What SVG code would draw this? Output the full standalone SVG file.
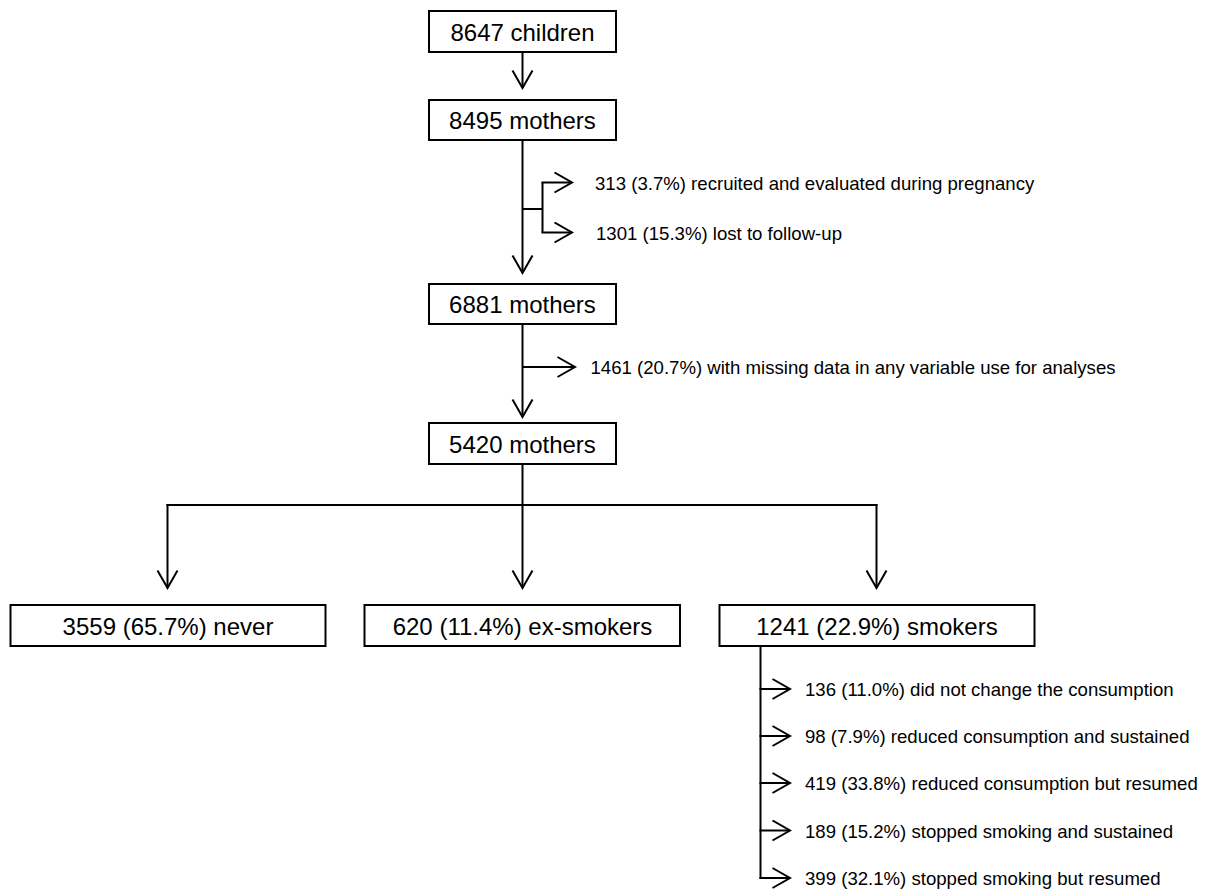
<svg xmlns="http://www.w3.org/2000/svg" width="1209" height="893" viewBox="0 0 1209 893">
<style>
.box{fill:#fff;stroke:#000;stroke-width:2}
.bt{font-family:"Liberation Sans",Arial,sans-serif;font-size:24px;fill:#000;text-anchor:middle}
.bt2{font-family:"Liberation Sans",Arial,sans-serif;font-size:24px;fill:#000;text-anchor:middle}
.lt{font-family:"Liberation Sans",Arial,sans-serif;font-size:18.6px;fill:#000}
.ln{fill:none;stroke:#000;stroke-width:2}
.ar{fill:none;stroke:#000;stroke-width:2;marker-end:url(#v)}
</style>
<defs>
<marker id="v" markerUnits="userSpaceOnUse" markerWidth="24" markerHeight="24" viewBox="0 0 24 24" refX="19.5" refY="11" orient="auto">
<path d="M2,1 L19.5,11 L2,21" fill="none" stroke="#000" stroke-width="2"/>
</marker>
</defs>
<g id="connectors">
<line class="ar" x1="522.5" y1="52" x2="522.5" y2="88"/>
<line class="ar" x1="522.5" y1="140" x2="522.5" y2="273"/>
<polyline class="ln" points="522.5,209 542.5,209"/>
<line class="ln" x1="542.5" y1="182.5" x2="542.5" y2="232.5"/>
<line class="ar" x1="541.5" y1="182.5" x2="572" y2="182.5"/>
<line class="ar" x1="541.5" y1="232.5" x2="572" y2="232.5"/>
<line class="ar" x1="522.5" y1="324" x2="522.5" y2="417"/>
<line class="ar" x1="522.5" y1="367" x2="575" y2="367"/>
<line class="ln" x1="522.5" y1="464" x2="522.5" y2="505"/>
<line class="ln" x1="166.5" y1="505" x2="877.5" y2="505"/>
<line class="ar" x1="167.5" y1="504" x2="167.5" y2="588"/>
<line class="ar" x1="522.5" y1="505" x2="522.5" y2="588"/>
<line class="ar" x1="876.5" y1="504" x2="876.5" y2="588"/>
<line class="ln" x1="760.5" y1="646" x2="760.5" y2="879"/>
<line class="ar" x1="759.5" y1="689" x2="790" y2="689"/>
<line class="ar" x1="759.5" y1="736" x2="790" y2="736"/>
<line class="ar" x1="759.5" y1="783" x2="790" y2="783"/>
<line class="ar" x1="759.5" y1="830.5" x2="790" y2="830.5"/>
<line class="ar" x1="759.5" y1="878" x2="790" y2="878"/>
</g>
<g id="n1"><rect class="box" x="429" y="11" width="187" height="41"/><text class="bt" x="522.5" y="40.5">8647 children</text></g>
<g id="n2"><rect class="box" x="429" y="100" width="187" height="40"/><text class="bt" x="522.5" y="129">8495 mothers</text></g>
<g id="n3"><rect class="box" x="429" y="284" width="187" height="40"/><text class="bt" x="522.5" y="313">6881 mothers</text></g>
<g id="n4"><rect class="box" x="429" y="423" width="187" height="41"/><text class="bt" x="522.5" y="452.5">5420 mothers</text></g>
<g id="n5"><rect class="box" x="10.5" y="605" width="315" height="41"/><text class="bt2" x="168" y="634.5">3559 (65.7%) never</text></g>
<g id="n6"><rect class="box" x="364.5" y="605" width="315.5" height="41"/><text class="bt2" x="522.5" y="634.5">620 (11.4%) ex-smokers</text></g>
<g id="n7"><rect class="box" x="719.5" y="605" width="315" height="41"/><text class="bt2" x="877" y="634.5">1241 (22.9%) smokers</text></g>
<g id="l1"><text class="lt" x="595" y="189.5">313 (3.7%) recruited and evaluated during pregnancy</text></g>
<g id="l2"><text class="lt" x="596" y="239.5">1301 (15.3%) lost to follow-up</text></g>
<g id="l3"><text class="lt" x="590.5" y="374">1461 (20.7%) with missing data in any variable use for analyses</text></g>
<g id="s1"><text class="lt" x="805" y="696">136 (11.0%) did not change the consumption</text></g>
<g id="s2"><text class="lt" x="805" y="743">98 (7.9%) reduced consumption and sustained</text></g>
<g id="s3"><text class="lt" x="805" y="790">419 (33.8%) reduced consumption but resumed</text></g>
<g id="s4"><text class="lt" x="805" y="837.5">189 (15.2%) stopped smoking and sustained</text></g>
<g id="s5"><text class="lt" x="805" y="885">399 (32.1%) stopped smoking but resumed</text></g>
</svg>
